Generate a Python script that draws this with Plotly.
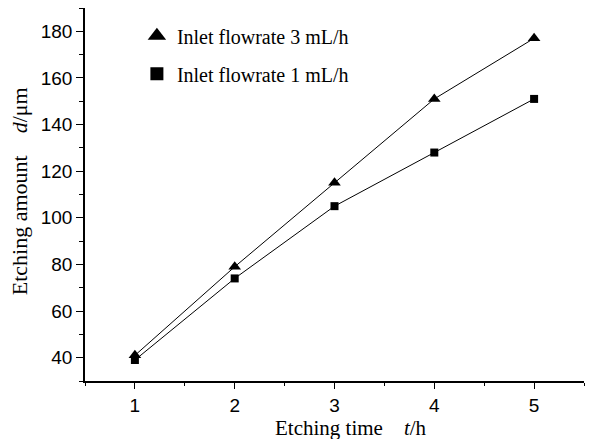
import plotly.graph_objects as go

times = [1, 2, 3, 4, 5]
flow3_label = "Inlet flowrate 3 mL/h"
flow1_label = "Inlet flowrate 1 mL/h"
etch_3 = [41, 79, 115, 151, 177]
etch_1 = [39, 74, 105, 128, 151]
x_ticks = [1, 2, 3, 4, 5]
y_ticks = [40, 60, 80, 100, 120, 140, 160, 180]

SERIF = "Liberation Serif, Times New Roman"

fig = go.Figure()
fig.add_trace(go.Scatter(x=times, y=etch_3, mode="lines+markers", showlegend=False,
                         line=dict(color="black", width=1),
                         marker=dict(symbol="triangle-up", size=11, color="black")))
fig.add_trace(go.Scatter(x=times, y=etch_1, mode="lines+markers", showlegend=False,
                         line=dict(color="black", width=1),
                         marker=dict(symbol="square", size=8, color="black")))
# legend-only entries (markers without line)
fig.add_trace(go.Scatter(x=[None], y=[None], mode="markers", name=flow3_label, legendgroup="a",
                         marker=dict(symbol="triangle-up", size=16, color="black")))
fig.add_trace(go.Scatter(x=[None], y=[None], mode="markers", name=flow1_label, legendgroup="b",
                         marker=dict(symbol="square", size=13, color="black")))

fig.update_layout(
    width=589, height=431,
    margin=dict(l=77, r=13, t=0, b=58),
    plot_bgcolor="white", paper_bgcolor="white",
    font=dict(family="Liberation Sans, Arial", size=19, color="black"),
    showlegend=True,
    legend=dict(x=0.104, y=0.978, xanchor="left", yanchor="top",
                bgcolor="rgba(0,0,0,0)", tracegroupgap=9,
                font=dict(family=SERIF, size=20)),
    xaxis=dict(range=[0.5, 5.5], tickvals=x_ticks, ticks="outside", ticklen=6,
               tickcolor="black", showline=True, linecolor="black", linewidth=1.5,
               showgrid=False, zeroline=False, automargin=False,
               minor=dict(dtick=0.5, ticks="outside", ticklen=3, tickcolor="black")),
    yaxis=dict(range=[30, 190], tickvals=y_ticks, ticks="outside", ticklen=7,
               tickcolor="black", showline=True, linecolor="black", linewidth=1.5,
               showgrid=False, zeroline=False, automargin=False,
               minor=dict(dtick=10, ticks="outside", ticklen=4, tickcolor="black")),
    annotations=[
        dict(text="Etching time&nbsp;&nbsp;&nbsp;&nbsp;<i>t</i>/h", xref="paper", yref="paper",
             x=(351 - 85) / 499, y=-0.126, xanchor="center", yanchor="middle", showarrow=False,
             font=dict(family=SERIF, size=21)),
        dict(text="Etching amount&nbsp;&nbsp;&nbsp;&nbsp;<i>d</i>/μm", xref="paper", yref="paper",
             x=-0.132, y=0.509, xanchor="center", yanchor="middle", textangle=-90, showarrow=False,
             font=dict(family=SERIF, size=22)),
    ],
)

fig.write_html("out.html")
